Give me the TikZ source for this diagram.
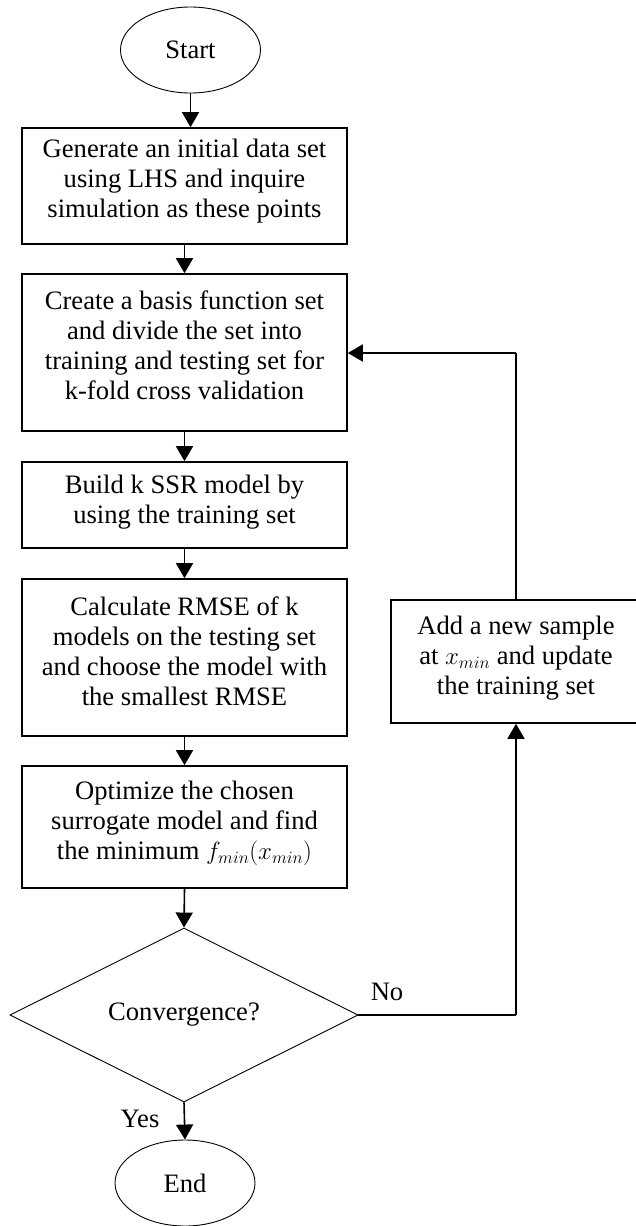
\documentclass[tikz,border=0pt]{standalone}
\usepackage{fontspec}
\setmainfont{Liberation Serif}
\usetikzlibrary{shapes.geometric,arrows.meta}

\begin{document}
\begin{tikzpicture}[x=1pt,y=-1pt,
  txt/.style={font=\fontsize{26.6}{30}\selectfont},
  label text/.style={txt,align=center,inner sep=0pt},
  stepbox/.style={draw,line width=1.6pt,inner sep=0pt,minimum width=325pt},
  terminal/.style={txt,draw,ellipse,line width=0.9pt,inner sep=0pt,
    minimum width=140pt,minimum height=86pt},
  decision/.style={txt,draw,diamond,line width=0.9pt,inner sep=0pt,
    shape aspect=2,minimum width=348pt,minimum height=174pt},
  flow/.style={line width=1.6pt,-{Triangle[width=17pt,length=15pt]}},
  link/.style={line width=1.6pt}]
\useasboundingbox (0,0) rectangle (636,1226);

% terminals and decision
\node[terminal] (start) at (190.5,50) {Start};
\node[decision] (conv) at (184,1015) {Convergence?};
\node[terminal] (end) at (185,1183) {End};

% process boxes (frame + text)
\node[stepbox,minimum height=116pt] (b1) at (184.5,186) {};
\node[label text] (b1t) at (184.5,181)
  {Generate an initial data set\\using LHS and inquire\\simulation as these points};
\node[stepbox,minimum height=157pt] (b2) at (184.5,352.5) {};
\node[label text] (b2t) at (184.5,345.5)
  {Create a basis function set\\and divide the set into\\training and testing set for\\k-fold cross validation};
\node[stepbox,minimum height=86pt] (b3) at (184.5,505) {};
\node[label text] (b3t) at (184.5,502.5)
  {Build k SSR model by\\using the training set};
\node[stepbox,minimum height=157pt] (b4) at (184.5,657.5) {};
\node[label text] (b4t) at (184.5,651.5)
  {Calculate RMSE of k\\models on the testing set\\and choose the model with\\the smallest RMSE};
\node[stepbox,minimum height=122pt] (b5) at (184.5,827) {};
\node[label text] (b5t) at (184.5,823.5)
  {Optimize the chosen\\surrogate model and find\\the minimum $f_{min}(x_{min})$};
\node[stepbox,minimum width=250pt,minimum height=123pt] (add) at (516,661.5) {};
\node[label text] (addt) at (516,658.5)
  {Add a new sample\\at $x_{min}$ and update\\the training set};

\coordinate (turn) at (add.south |- conv.east);
\coordinate (back) at (add.north |- 0,353);

% main flow
\draw[flow] (start.south) -- (start.south |- b1.north);
\draw[flow] (b1) -- (b2);
\draw[flow] (b2) -- (b3);
\draw[flow] (b3) -- (b4);
\draw[flow] (b4) -- (b5);
\draw[flow] (b5.south) -- (conv.north);
\draw[flow] (conv.south) -- (end.north);

% feedback loop
\draw[link] (conv.east) -- (turn);
\draw[flow] (turn) -- (add.south);
\draw[link] (add.north) -- (back);
\draw[flow] (back) -- (b2.east |- back);

\node[txt] (no) at (387,992) {No};
\node[txt] (yes) at (140,1119) {Yes};
\end{tikzpicture}
\end{document}
